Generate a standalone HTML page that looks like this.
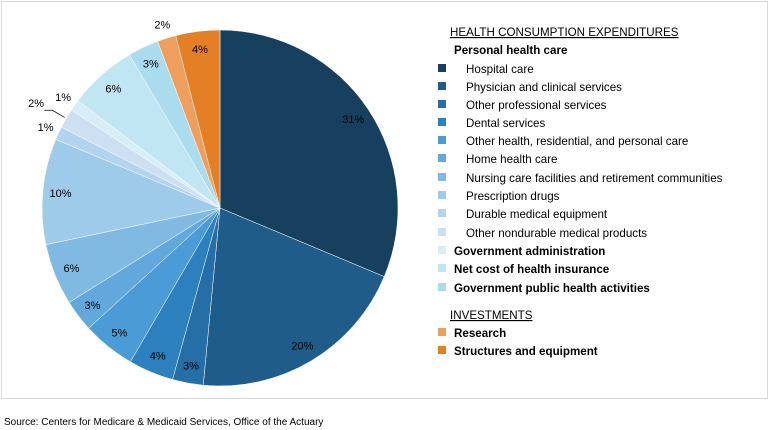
<!DOCTYPE html>
<html><head><meta charset="utf-8"><style>
body{margin:0;background:#fff;font-family:"Liberation Sans",sans-serif;}
#wrap{position:relative;width:770px;height:430px;overflow:hidden;}
svg text{font-family:"Liberation Sans",sans-serif;}
</style></head><body>
<div id="wrap">
<svg id="chart" width="770" height="430">
<rect x="1.5" y="1.5" width="766" height="397" fill="none" stroke="#d9d9d9"/>
<g id="slices"></g>
<g id="labels"></g>
<g id="legend" font-size="11.6"></g>
<text x="4" y="425" font-size="10" fill="#000">Source: Centers for Medicare &amp; Medicaid Services, Office of the Actuary</text>
</svg></div>
<script>
const categories=["Hospital care","Physician and clinical services","Other professional services","Dental services","Other health, residential, and personal care","Home health care","Nursing care facilities and retirement communities","Prescription drugs","Durable medical equipment","Other nondurable medical products","Government administration","Net cost of health insurance","Government public health activities","Research","Structures and equipment"];
const values=[31.3,20.2,2.8,4.1,4.8,2.9,5.6,9.6,1.2,1.8,1.0,6.2,2.8,1.7,4.0];
const valueLabels=["31%","20%","3%","4%","5%","3%","6%","10%","1%","2%","1%","6%","3%","2%","4%"];
const colors=["#17405f","#1f5c8a","#266fa6","#2b80bd","#4a9bd6","#62a8dc","#80b9e2","#9fcbea","#b2d4ee","#cde0f2","#d7eef7","#c0e5f3","#abdcee","#ee9f5e","#e57f25"];
const NS="http://www.w3.org/2000/svg";
const cx=220,cy=208,R=178;
const total=values.reduce((a,b)=>a+b,0);
function pt(frac,r){const a=frac*2*Math.PI;return [cx+r*Math.sin(a),cy-r*Math.cos(a)];}
const sg=document.getElementById('slices'),lg=document.getElementById('labels');
let cum=0;
values.forEach((v,i)=>{
 const s=cum/total,e=(cum+v)/total;cum+=v;
 const [x1,y1]=pt(s,R),[x2,y2]=pt(e,R);
 const p=document.createElementNS(NS,'path');
 p.setAttribute('d',`M${cx},${cy}L${x1},${y1}A${R},${R} 0 ${e-s>0.5?1:0} 1 ${x2},${y2}Z`);
 p.setAttribute('fill',colors[i]);p.setAttribute('stroke','#fff');p.setAttribute('stroke-width','0.5');
 
 
 sg.appendChild(p);
 const m=(s+e)/2;
 const small=v<=2;
 let rf=small?1.08:0.9;
 if(i===9)rf=1.17;
 const [lx,ly]=pt(m,R*rf);
 if(i===9){const [a1,b1]=pt(m,R*1.01),[a2,b2]=pt(m,R*1.09);
  const l=document.createElementNS(NS,'polyline');
  l.setAttribute('points',`${a1},${b1} ${a2},${b2} ${a2-8},${b2}`);l.setAttribute('fill','none');l.setAttribute('stroke','#000');l.setAttribute('stroke-width','0.7');
  
  
  lg.appendChild(l);}
 const t=document.createElementNS(NS,'text');
 t.setAttribute('x',i===9?lx-4:lx);t.setAttribute('y',ly+4);t.setAttribute('text-anchor','middle');t.setAttribute('font-size','11');
 t.textContent=valueLabels[i];
 
 
 lg.appendChild(t);
});
const leg=document.getElementById('legend');
function txt(x,y,s,bold,ul){const t=document.createElementNS(NS,'text');t.setAttribute('x',x);t.setAttribute('y',y);
 if(bold)t.setAttribute('font-weight','bold');if(ul)t.setAttribute('text-decoration','underline');t.textContent=s;leg.appendChild(t);return t;}
let h=txt(450,36,"HEALTH CONSUMPTION EXPENDITURES",false,true);


h=txt(454,54,"Personal health care",true,false);


const ys=[73,91,109,127,145,163,182,200,218,237,255,273,292,337,355];
categories.forEach((c,i)=>{
 const g=document.createElementNS(NS,'g');
 
 
 const r=document.createElementNS(NS,'rect');r.setAttribute('x',438);r.setAttribute('y',ys[i]-9);r.setAttribute('width',8);r.setAttribute('height',8);r.setAttribute('fill',colors[i]);
 g.appendChild(r);
 const t=document.createElementNS(NS,'text');t.setAttribute('x',i<10?466:454);t.setAttribute('y',ys[i]);
 if(i>=10)t.setAttribute('font-weight','bold');t.textContent=c;g.appendChild(t);
 leg.appendChild(g);
});
h=txt(450,319,"INVESTMENTS",false,true);


</script>
</body></html>
